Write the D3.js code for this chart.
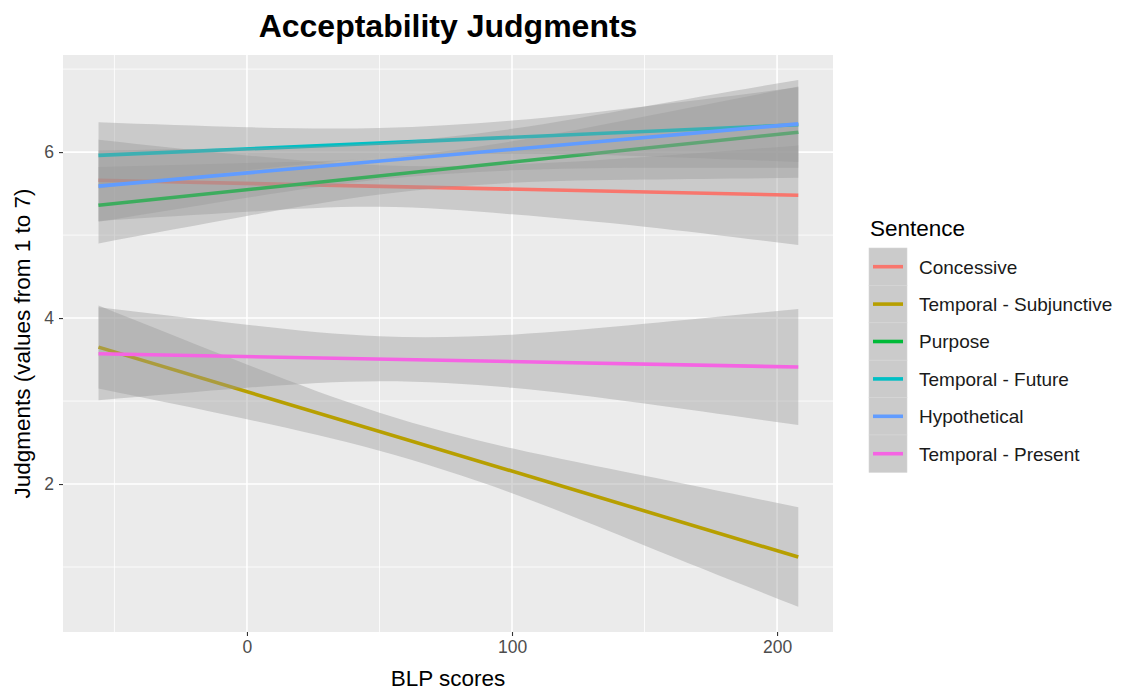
<!DOCTYPE html>
<html>
<head>
<meta charset="utf-8">
<script src="https://cdn.jsdelivr.net/npm/d3@7"></script>
<style>
  body { margin: 0; background: #fff; }
  text { font-family: "Liberation Sans", Arial, sans-serif; }
</style>
</head>
<body>
<div id="chart"></div>
<script>
// categories, in legend / drawing order
const sentences = ['Concessive', 'Temporal - Subjunctive', 'Purpose', 'Temporal - Future', 'Hypothetical', 'Temporal - Present'];
const colors = ['#F8766D', '#B79F00', '#00BA38', '#00BFC4', '#619CFF', '#F564E3'];

// fitted line end points (BLP -56 and 208)
const lineX = [-56, 208];
const lineStart = [5.66, 3.65, 5.36, 5.96, 5.59, 3.57];
const lineEnd = [5.48, 1.12, 6.24, 6.33, 6.34, 3.41];

// confidence band, read at these BLP scores
const bandX = [-56, 0, 50, 100, 150, 208];
const bandUpper = [
  [6.15, 5.96, 5.84, 5.85, 5.94, 6.08],
  [4.15, 3.44, 2.86, 2.43, 2.10, 1.72],
  [5.82, 5.87, 5.93, 6.13, 6.43, 6.79],
  [6.36, 6.30, 6.29, 6.38, 6.55, 6.78],
  [6.02, 6.05, 6.11, 6.28, 6.55, 6.87],
  [4.13, 3.92, 3.78, 3.80, 3.93, 4.11]
];
const bandLower = [
  [5.17, 5.28, 5.34, 5.25, 5.10, 4.88],
  [3.15, 2.78, 2.40, 1.89, 1.26, 0.52],
  [4.90, 5.23, 5.49, 5.63, 5.67, 5.69],
  [5.56, 5.78, 5.93, 5.98, 5.95, 5.88],
  [5.16, 5.45, 5.67, 5.78, 5.81, 5.81],
  [3.01, 3.16, 3.24, 3.16, 2.97, 2.71]
];

const xTicks = [0, 100, 200];
const xMinor = [-50, 50, 150];
const yTicks = [2, 4, 6];
const yMinor = [1, 3, 5, 7];

const W = 1121, H = 692;
const panel = {left: 63, top: 55, right: 833, bottom: 632};

const svg = d3.select('#chart').append('svg')
  .attr('width', W).attr('height', H);

const x = d3.scaleLinear().domain([-69.4, 221.1]).range([panel.left, panel.right]);
const y = d3.scaleLinear().domain([0.217, 7.17]).range([panel.bottom, panel.top]);

// panel background
svg.append('rect')
  .attr('x', panel.left).attr('y', panel.top)
  .attr('width', panel.right - panel.left).attr('height', panel.bottom - panel.top)
  .attr('fill', '#EBEBEB');

const grid = svg.append('g');
grid.selectAll('.ymin').data(yMinor).enter().append('line')
  .attr('x1', panel.left).attr('x2', panel.right)
  .attr('y1', d => y(d)).attr('y2', d => y(d))
  .attr('stroke', '#fff').attr('stroke-width', 0.8);
grid.selectAll('.xmin').data(xMinor).enter().append('line')
  .attr('y1', panel.top).attr('y2', panel.bottom)
  .attr('x1', d => x(d)).attr('x2', d => x(d))
  .attr('stroke', '#fff').attr('stroke-width', 0.8);
grid.selectAll('.ymaj').data(yTicks).enter().append('line')
  .attr('x1', panel.left).attr('x2', panel.right)
  .attr('y1', d => y(d)).attr('y2', d => y(d))
  .attr('stroke', '#fff').attr('stroke-width', 1.6);
grid.selectAll('.xmaj').data(xTicks).enter().append('line')
  .attr('y1', panel.top).attr('y2', panel.bottom)
  .attr('x1', d => x(d)).attr('x2', d => x(d))
  .attr('stroke', '#fff').attr('stroke-width', 1.6);

// bands + lines, group by group like ggplot does
const area = d3.area()
  .x(d => x(d.x))
  .y0(d => y(d.lo))
  .y1(d => y(d.hi))
  .curve(d3.curveNatural);

const line = d3.line().x(d => x(d[0])).y(d => y(d[1]));

sentences.forEach((s, i) => {
  const band = bandX.map((bx, j) => ({x: bx, lo: bandLower[i][j], hi: bandUpper[i][j]}));
  svg.append('path')
    .datum(band)
    .attr('d', area)
    .attr('fill', '#999999')
    .attr('fill-opacity', 0.4);
  svg.append('path')
    .datum([[lineX[0], lineStart[i]], [lineX[1], lineEnd[i]]])
    .attr('d', line)
    .attr('fill', 'none')
    .attr('stroke', colors[i])
    .attr('stroke-width', 3.6);
});

// axes
const xAxis = svg.append('g')
  .attr('transform', `translate(0,${panel.bottom})`)
  .call(d3.axisBottom(x).tickValues(xTicks).tickFormat(d3.format('d')).tickSize(4).tickPadding(5));
const yAxis = svg.append('g')
  .attr('transform', `translate(${panel.left},0)`)
  .call(d3.axisLeft(y).tickValues(yTicks).tickFormat(d3.format('d')).tickSize(4).tickPadding(5));
[xAxis, yAxis].forEach(a => {
  a.select('.domain').remove();
  a.selectAll('line').attr('stroke', '#333').attr('stroke-width', 1.1);
  a.selectAll('text').attr('fill', '#4D4D4D').style('font-size', '17.5px')
    .style('font-family', '"Liberation Sans", Arial, sans-serif');
});

// titles
svg.append('text')
  .attr('x', (panel.left + panel.right) / 2).attr('y', 37)
  .attr('text-anchor', 'middle')
  .style('font-size', '32px').style('font-weight', 'bold')
  .text('Acceptability Judgments');

svg.append('text')
  .attr('x', (panel.left + panel.right) / 2).attr('y', 686)
  .attr('text-anchor', 'middle')
  .style('font-size', '22.5px')
  .text('BLP scores');

svg.append('text')
  .attr('transform', `translate(30,${(panel.top + panel.bottom) / 2}) rotate(-90)`)
  .attr('text-anchor', 'middle')
  .style('font-size', '22.5px')
  .text('Judgments (values from 1 to 7)');

// legend
const legend = svg.append('g').attr('transform', 'translate(869,248)');
const keyH = 37.4;
legend.append('text')
  .attr('x', 1).attr('y', -12)
  .style('font-size', '22.5px')
  .text('Sentence');

const keys = legend.selectAll('.key').data(sentences).enter().append('g')
  .attr('transform', (d, i) => `translate(0,${i * keyH})`);
keys.append('rect')
  .attr('width', 38).attr('height', keyH)
  .attr('fill', '#CBCBCB')
  .attr('stroke', '#D6D6D6').attr('stroke-width', 0.6);
keys.append('line')
  .attr('x1', 4).attr('x2', 34)
  .attr('y1', keyH / 2).attr('y2', keyH / 2)
  .attr('stroke', (d, i) => colors[i])
  .attr('stroke-width', 3.6);
keys.append('text')
  .attr('x', 50).attr('y', keyH / 2 + 7)
  .style('font-size', '19px')
  .attr('fill', '#1A1A1A')
  .text(d => d);
</script>
</body>
</html>
